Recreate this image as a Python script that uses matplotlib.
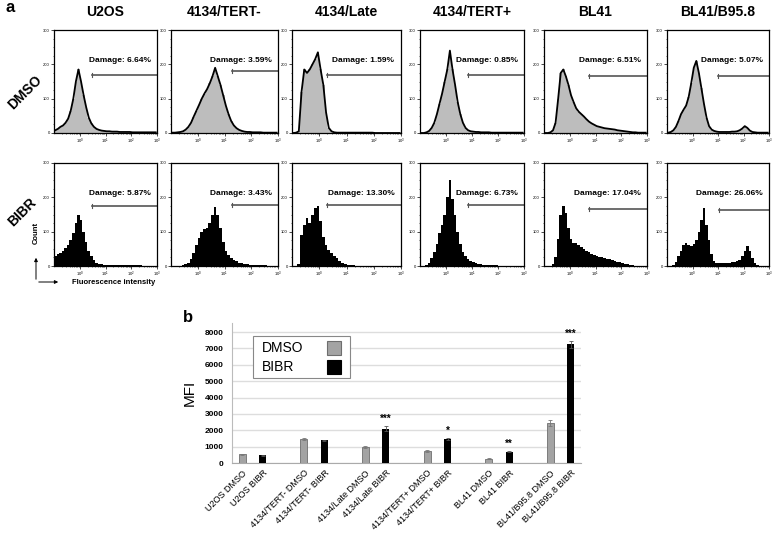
import numpy as np
import matplotlib.pyplot as plt
from matplotlib.patches import Rectangle, FancyArrowPatch
from matplotlib.ticker import MultipleLocator

plt.rcParams['font.family'] = ['Liberation Sans', 'DejaVu Sans']

W, H = 775, 534

cell_lines = ['U2OS', '4134/TERT-', '4134/Late', '4134/TERT+', 'BL41', 'BL41/B95.8']

# flow histograms: counts in 40 bins, 10^-1 .. 10^3 (log spaced)
u2os_dmso = [8, 12, 18, 22, 30, 42, 65, 100, 150, 185, 150, 110, 75, 45, 28, 18, 12, 9, 7, 6,
             5, 5, 4, 4, 4, 3, 3, 3, 3, 3, 2, 2, 2, 2, 2, 2, 2, 2, 2, 2]
tert_neg_dmso = [1, 1, 2, 3, 5, 10, 18, 30, 48, 65, 82, 100, 115, 128, 145, 165, 190, 165, 140, 110,
                 80, 55, 35, 22, 14, 9, 6, 4, 3, 3, 2, 2, 2, 2, 1, 1, 1, 1, 1, 1]
late_dmso = [0, 1, 5, 120, 185, 175, 185, 200, 215, 235, 185, 140, 60, 15, 5, 2, 1, 1, 1, 1,
             1, 1, 1, 1, 1, 1, 1, 1, 1, 1, 0, 0, 0, 0, 0, 0, 0, 0, 0, 0]
tert_pos_dmso = [0, 0, 2, 6, 15, 30, 55, 85, 115, 150, 185, 240, 185, 140, 90, 55, 30, 15, 8, 5,
                 4, 3, 3, 2, 2, 2, 2, 1, 1, 1, 1, 1, 1, 1, 1, 1, 1, 1, 1, 1]
bl41_dmso = [0, 0, 2, 8, 30, 100, 175, 185, 165, 140, 110, 90, 72, 62, 55, 48, 40, 33, 28, 24,
             20, 18, 16, 14, 13, 12, 11, 10, 8, 7, 6, 5, 4, 3, 2, 2, 1, 1, 1, 1]
b958_dmso = [1, 3, 8, 18, 35, 55, 68, 80, 105, 145, 190, 210, 175, 130, 85, 45, 20, 10, 6, 4,
             3, 3, 3, 3, 3, 4, 4, 5, 8, 13, 20, 15, 7, 3, 2, 1, 1, 1, 1, 1]

u2os_bibr = [30, 35, 38, 45, 52, 62, 75, 95, 125, 150, 135, 100, 70, 45, 28, 17, 10, 7, 5, 4,
             3, 3, 3, 2, 2, 2, 2, 2, 2, 2, 2, 2, 2, 2, 1, 1, 1, 1, 1, 1]
tert_neg_bibr = [0, 0, 0, 1, 2, 5, 10, 20, 38, 60, 82, 98, 108, 112, 125, 150, 172, 150, 112, 70,
                 45, 32, 24, 18, 14, 10, 8, 6, 5, 4, 3, 3, 3, 2, 2, 2, 1, 1, 1, 1]
late_bibr = [0, 1, 5, 90, 120, 140, 125, 150, 170, 175, 130, 85, 60, 48, 38, 30, 22, 15, 10, 6,
             3, 2, 2, 1, 1, 1, 1, 1, 1, 1, 1, 1, 0, 0, 0, 0, 0, 0, 0, 0]
tert_pos_bibr = [0, 1, 4, 10, 22, 40, 65, 95, 120, 150, 200, 250, 195, 150, 100, 65, 42, 28, 20, 15,
                 12, 9, 7, 5, 4, 3, 3, 2, 2, 2, 1, 1, 1, 1, 1, 1, 1, 1, 1, 1]
bl41_bibr = [0, 0, 1, 5, 25, 80, 150, 175, 155, 110, 80, 68, 66, 62, 55, 50, 45, 40, 36, 32,
             30, 27, 25, 23, 21, 19, 17, 15, 13, 11, 9, 7, 5, 3, 2, 1, 1, 1, 1, 1]
b958_bibr = [0, 1, 4, 12, 28, 45, 62, 68, 60, 58, 65, 75, 100, 135, 170, 120, 75, 35, 15, 10,
             8, 9, 10, 10, 10, 11, 12, 14, 18, 28, 45, 58, 45, 22, 8, 2, 1, 0, 0, 0]

dmso_hists = [u2os_dmso, tert_neg_dmso, late_dmso, tert_pos_dmso, bl41_dmso, b958_dmso]
bibr_hists = [u2os_bibr, tert_neg_bibr, late_bibr, tert_pos_bibr, bl41_bibr, b958_bibr]

dmso_damage = ['6.64%', '3.59%', '1.59%', '0.85%', '6.51%', '5.07%']
bibr_damage = ['5.87%', '3.43%', '13.30%', '6.73%', '17.04%', '26.06%']

# gate start (log10 intensity) and gate level (count)
dmso_gate_start = [0.46, 1.29, 0.27, 0.83, 0.75, 0.99]
bibr_gate_start = [0.49, 1.29, 0.27, 0.83, 0.75, 1.03]
dmso_gate_y = [169, 180, 169, 169, 166, 166]
bibr_gate_y = [175, 178, 177, 178, 166, 163]

# bar chart (MFI)
bar_labels = ['U2OS DMSO', 'U2OS BIBR', '4134/TERT- DMSO', '4134/TERT- BIBR',
              '4134/Late DMSO', '4134/Late BIBR', '4134/TERT+ DMSO', '4134/TERT+ BIBR',
              'BL41 DMSO', 'BL41 BIBR', 'BL41/B95.8 DMSO', 'BL41/B95.8 BIBR']
mfi_dmso = [530, 1460, 950, 730, 260, 2420]
mfi_bibr = [480, 1400, 2100, 1440, 690, 7250]
err_dmso = [30, 40, 60, 40, 20, 180]
err_bibr = [30, 30, 150, 60, 30, 200]
stars = ['', '', '***', '*', '**', '***']

fig = plt.figure(figsize=(W / 100, H / 100), dpi=100)


def px(x, y):
    return x / W, 1 - y / H


edges = np.logspace(-1, 3, 41)
centers = np.sqrt(edges[:-1] * edges[1:])

col_x = [(54, 157), (171, 278), (292, 401), (420, 524), (544, 647), (667, 769)]
row_y = [(30, 133), (163, 266)]

for c in range(6):
    x0, x1 = col_x[c]
    for r in range(2):
        y0, y1 = row_y[r]
        ax = fig.add_axes([x0 / W, 1 - y1 / H, (x1 - x0) / W, (y1 - y0) / H])
        if r == 0:
            counts = dmso_hists[c]
            ax.stairs(counts, edges, fill=True, color='#bdbdbd')
            ax.plot(centers, counts, color='black', lw=1.3)
            gs, gy, lab = dmso_gate_start[c], dmso_gate_y[c], dmso_damage[c]
            ax.set_title(cell_lines[c], fontsize=10, weight='bold', pad=10)
        else:
            counts = bibr_hists[c]
            ax.stairs(counts, edges, fill=True, color='black')
            gs, gy, lab = bibr_gate_start[c], bibr_gate_y[c], bibr_damage[c]
        ax.set_xscale('log')
        ax.set_xlim(0.1, 1000)
        ax.set_ylim(0, 300)
        ax.set_xticks([1, 10, 100, 1000])
        ax.set_yticks([0, 100, 200, 300])
        ax.yaxis.set_minor_locator(MultipleLocator(25))
        ax.tick_params(labelsize=3, length=2, width=0.5, pad=1)
        ax.tick_params(which='minor', length=1, width=0.4)
        for s in ax.spines.values():
            s.set_linewidth(0.9)
        # gate
        ax.plot([10 ** gs, 1000], [gy, gy], color='#555555', lw=1.2)
        ax.plot([10 ** gs, 10 ** gs], [gy - 6, gy + 6], color='#555555', lw=0.8)
        ax.text(0.94, 212, 'Damage: ' + lab, transform=ax.get_yaxis_transform(),
                ha='right', va='center', fontsize=6, weight='bold')

fig.text(*px(5, 7), 'a', fontsize=12, weight='bold', va='center', ha='left')
fig.text(*px(25, 92), 'DMSO', rotation=45, fontsize=10, weight='bold', ha='center', va='center')
fig.text(*px(22, 212), 'BIBR', rotation=45, fontsize=10, weight='bold', ha='center', va='center')
fig.text(*px(36.5, 233), 'Count', rotation=90, fontsize=5.5, weight='bold', ha='center', va='center')
fig.text(*px(114, 283), 'Fluorescence intensity', fontsize=5.5, weight='bold', ha='center', va='center')
fig.add_artist(FancyArrowPatch(px(36, 282), px(36, 255), transform=fig.transFigure,
                               arrowstyle='-|>', mutation_scale=5, lw=0.7, color='black'))
fig.add_artist(FancyArrowPatch(px(36, 282), px(61, 282), transform=fig.transFigure,
                               arrowstyle='-|>', mutation_scale=5, lw=0.7, color='black'))

# ---- panel b ----
bax = fig.add_axes([232 / W, 1 - 463 / H, 349 / W, 140 / H])
pos_dmso = [3 * g for g in range(6)]
pos_bibr = [3 * g + 1 for g in range(6)]
bax.bar(pos_dmso, mfi_dmso, width=0.34, color='#a3a3a3', edgecolor='#6e6e6e', lw=0.6, zorder=3,
        yerr=err_dmso, error_kw=dict(ecolor='#777777', elinewidth=0.6, capsize=1.5, capthick=0.6))
bax.bar(pos_bibr, mfi_bibr, width=0.34, color='black', zorder=3,
        yerr=err_bibr, error_kw=dict(ecolor='#555555', elinewidth=0.6, capsize=1.5, capthick=0.6))
for p, v, e, s in zip(pos_bibr, mfi_bibr, err_bibr, stars):
    if s:
        bax.text(p, v + e + 450, s, ha='center', va='center', fontsize=7, weight='bold')
bax.set_xlim(-0.5, 16.5)
bax.set_ylim(0, 8550)
bax.set_yticks(range(0, 9000, 1000))
bax.yaxis.grid(True, color='#dddddd', lw=1)
bax.set_axisbelow(True)
bax.tick_params(axis='y', labelsize=6, length=0, pad=6)
for t in bax.get_yticklabels():
    t.set_fontweight('bold')
ticks = sorted(pos_dmso + pos_bibr)
bax.set_xticks(ticks)
bax.set_xticklabels(bar_labels, rotation=45, ha='right', rotation_mode='anchor', fontsize=6.5)
bax.tick_params(axis='x', length=0, pad=4)
for side in ['top', 'right']:
    bax.spines[side].set_visible(False)
bax.spines['left'].set_color('#bbbbbb')
bax.spines['bottom'].set_color('#aaaaaa')
bax.set_ylabel('MFI', fontsize=11, labelpad=6)

# legend box (text left, swatch right)
lx, ly = px(253, 378)
lw_, lh_ = 97 / W, 42 / H
fig.add_artist(Rectangle((lx, ly), lw_, lh_, transform=fig.transFigure, facecolor='white',
                         edgecolor='#888888', lw=0.8, zorder=5))
for name, yy, fc, ec in [('DMSO', 348, '#a3a3a3', '#6e6e6e'), ('BIBR', 367, 'black', 'black')]:
    fig.text(*px(262, yy), name, fontsize=10, ha='left', va='center', zorder=6)
    sx, sy = px(327, yy + 7)
    fig.add_artist(Rectangle((sx, sy), 14 / W, 14 / H, transform=fig.transFigure,
                             facecolor=fc, edgecolor=ec, lw=0.8, zorder=6))
fig.text(*px(188, 318), 'b', fontsize=12, weight='bold', va='center', ha='center')

fig.savefig('out.png', dpi=100)
